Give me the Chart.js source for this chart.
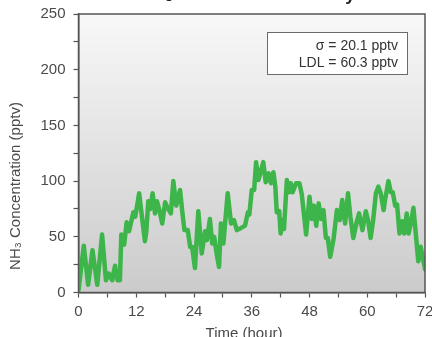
<!DOCTYPE html>
<html>
<head>
<meta charset="utf-8">
<script src="https://cdn.jsdelivr.net/npm/chart.js@4.4.1/dist/chart.umd.min.js"></script>
<style>
  html, body { margin: 0; padding: 0; background: #fff; }
  #wrap { width: 432px; height: 337px; }
</style>
</head>
<body>
<div id="wrap"><canvas id="chart" width="432" height="337"></canvas></div>
<script>
// ── Data ──────────────────────────────────────────────
const hours = [
  0, 1.1, 2.0, 2.9, 3.9, 4.9, 5.7, 6.3, 7.0, 7.6, 8.1, 8.6, 8.9, 9.5, 10.0, 10.5,
  11.4, 11.8, 12.6, 13.3, 13.8, 14.1, 14.5, 14.9, 15.4, 15.9, 16.3, 16.8, 17.4, 18.0,
  18.5, 19.2, 19.7, 20.3, 21.1, 21.5, 22.0, 22.7, 23.2, 23.6, 24.2, 24.9, 25.6, 26.3,
  26.7, 27.3, 27.8, 28.2, 28.7, 29.2, 29.6, 30.1, 31.0, 31.7, 32.3, 32.9, 33.8, 34.6,
  35.2, 35.5, 36.0, 36.5, 36.9, 37.4, 37.9, 38.4, 38.9, 39.5, 40.0, 40.5, 40.9, 41.2,
  41.7, 42.0, 42.4, 42.7, 43.3, 43.8, 44.1, 44.5, 45.2, 45.9, 46.4, 47.3, 48.0, 48.5,
  48.9, 49.4, 49.9, 50.4, 50.9, 51.4, 51.8, 52.3, 53.0, 53.7, 54.3, 54.8, 55.4, 56.0,
  56.5, 57.1, 57.8, 58.3, 59.0, 59.7, 60.2, 60.7, 61.2, 61.8, 62.3, 62.8, 63.4, 63.7,
  64.4, 64.9, 65.3, 65.8, 66.2, 66.7, 67.2, 67.7, 68.2, 68.6, 69.0, 69.6, 70.1, 70.6,
  71.1, 72.0
];
const nh3 = [
  2, 42, 7, 38, 7, 52, 11, 17, 11, 24, 11, 11, 52, 43, 63, 55,
  72, 68, 89, 64, 46, 55, 82, 75, 89, 71, 82, 74, 62, 81,
  76, 71, 100, 78, 92, 75, 56, 56, 41, 41, 22, 73, 35, 55,
  47, 66, 44, 50, 35, 23, 62, 44, 89, 62, 65, 56, 58, 60,
  72, 70, 92, 92, 117, 101, 109, 117, 99, 107, 98, 108, 95, 72,
  73, 53, 65, 57, 101, 90, 98, 90, 98, 98, 88, 52, 86, 66,
  78, 60, 80, 66, 74, 49, 49, 32, 48, 74, 65, 83, 62, 89,
  68, 49, 63, 71, 56, 73, 64, 49, 64, 89, 95, 89, 74, 83,
  100, 90, 90, 78, 79, 53, 64, 53, 71, 53, 61, 76, 52, 28,
  41, 21
];
const statLines = ['σ = 20.1 pptv', 'LDL = 60.3 pptv'];

const AXIS = '#555555';
const TEXT = '#4a4a4a';
const FONT = '"Liberation Sans", Arial, sans-serif';

// ── Plot background, frame, stats box, axis titles ────
const decor = {
  id: 'decor',
  beforeDraw(chart) {
    const { ctx, chartArea: a } = chart;
    const g = ctx.createLinearGradient(0, a.top, 0, a.bottom);
    g.addColorStop(0, '#f8f8f8');
    g.addColorStop(1, '#cbcbcc');
    ctx.save();
    ctx.fillStyle = g;
    ctx.fillRect(a.left, a.top, a.right - a.left, a.bottom - a.top);
    ctx.restore();
  },
  afterDraw(chart) {
    const { ctx, chartArea: a } = chart;
    ctx.save();
    ctx.strokeStyle = AXIS;
    ctx.lineWidth = 1.5;
    ctx.strokeRect(a.left, a.top, a.right - a.left, a.bottom - a.top);

    // stats box
    ctx.fillStyle = '#ffffff';
    ctx.strokeStyle = '#6a6a6a';
    ctx.lineWidth = 1;
    ctx.fillRect(267.5, 32.5, 140, 42);
    ctx.strokeRect(267.5, 32.5, 140, 42);
    ctx.fillStyle = '#333';
    ctx.font = '14px ' + FONT;
    ctx.textAlign = 'right';
    ctx.textBaseline = 'alphabetic';
    ctx.fillText(statLines[0], 398, 50);
    ctx.fillText(statLines[1], 398, 67);

    // axis titles
    ctx.fillStyle = TEXT;
    ctx.font = '15px ' + FONT;
    ctx.textAlign = 'center';
    ctx.fillText('Time (hour)', 244, 338);
    ctx.save();
    ctx.translate(20, 186);
    ctx.rotate(-Math.PI / 2);
    ctx.fillText('NH₃ Concentration (pptv)', 0, 0);
    ctx.restore();

    // chart title, cut off by the top edge
    ctx.fillStyle = '#222';
    ctx.font = 'bold 18px ' + FONT;
    ctx.fillText('NH₃ Detection Sensitivity', 247, 0);
    ctx.restore();
  }
};

const tickStyle = { color: TEXT, font: { family: FONT, size: 15 } };

new Chart(document.getElementById('chart'), {
  type: 'line',
  data: {
    datasets: [{
      data: hours.map((h, i) => ({ x: h, y: nh3[i] })),
      borderColor: '#3db54a',
      borderWidth: 4.5,
      borderJoinStyle: 'round',
      borderCapStyle: 'round',
      pointRadius: 0,
      tension: 0,
      fill: false,
    }],
  },
  options: {
    responsive: false,
    animation: false,
    layout: { padding: { top: 14, right: 7, left: 0, bottom: 0 } },
    plugins: { legend: { display: false }, tooltip: { enabled: false } },
    scales: {
      x: {
        type: 'linear', min: 0, max: 72,
        afterFit: s => { s.height = 44.5; s.paddingLeft = 0; s.paddingRight = 0; },
        border: { color: AXIS, width: 1.5 },
        grid: { drawOnChartArea: false, tickLength: 5, tickColor: AXIS, tickWidth: 1.2 },
        ticks: {
          ...tickStyle, stepSize: 6, autoSkip: false, maxRotation: 0, padding: 5,
          callback: v => (v % 12 === 0 ? v : ''),
        },
      },
      y: {
        min: 0, max: 250,
        afterFit: s => { s.width = 78.5; s.paddingTop = 0; s.paddingBottom = 0; },
        border: { color: AXIS, width: 1.5 },
        grid: { drawOnChartArea: false, tickLength: 5, tickColor: AXIS, tickWidth: 1.2 },
        ticks: {
          ...tickStyle, stepSize: 25, autoSkip: false, padding: 8,
          callback: v => (v % 50 === 0 ? v : ''),
        },
      },
    },
  },
  plugins: [decor],
});
</script>
</body>
</html>
